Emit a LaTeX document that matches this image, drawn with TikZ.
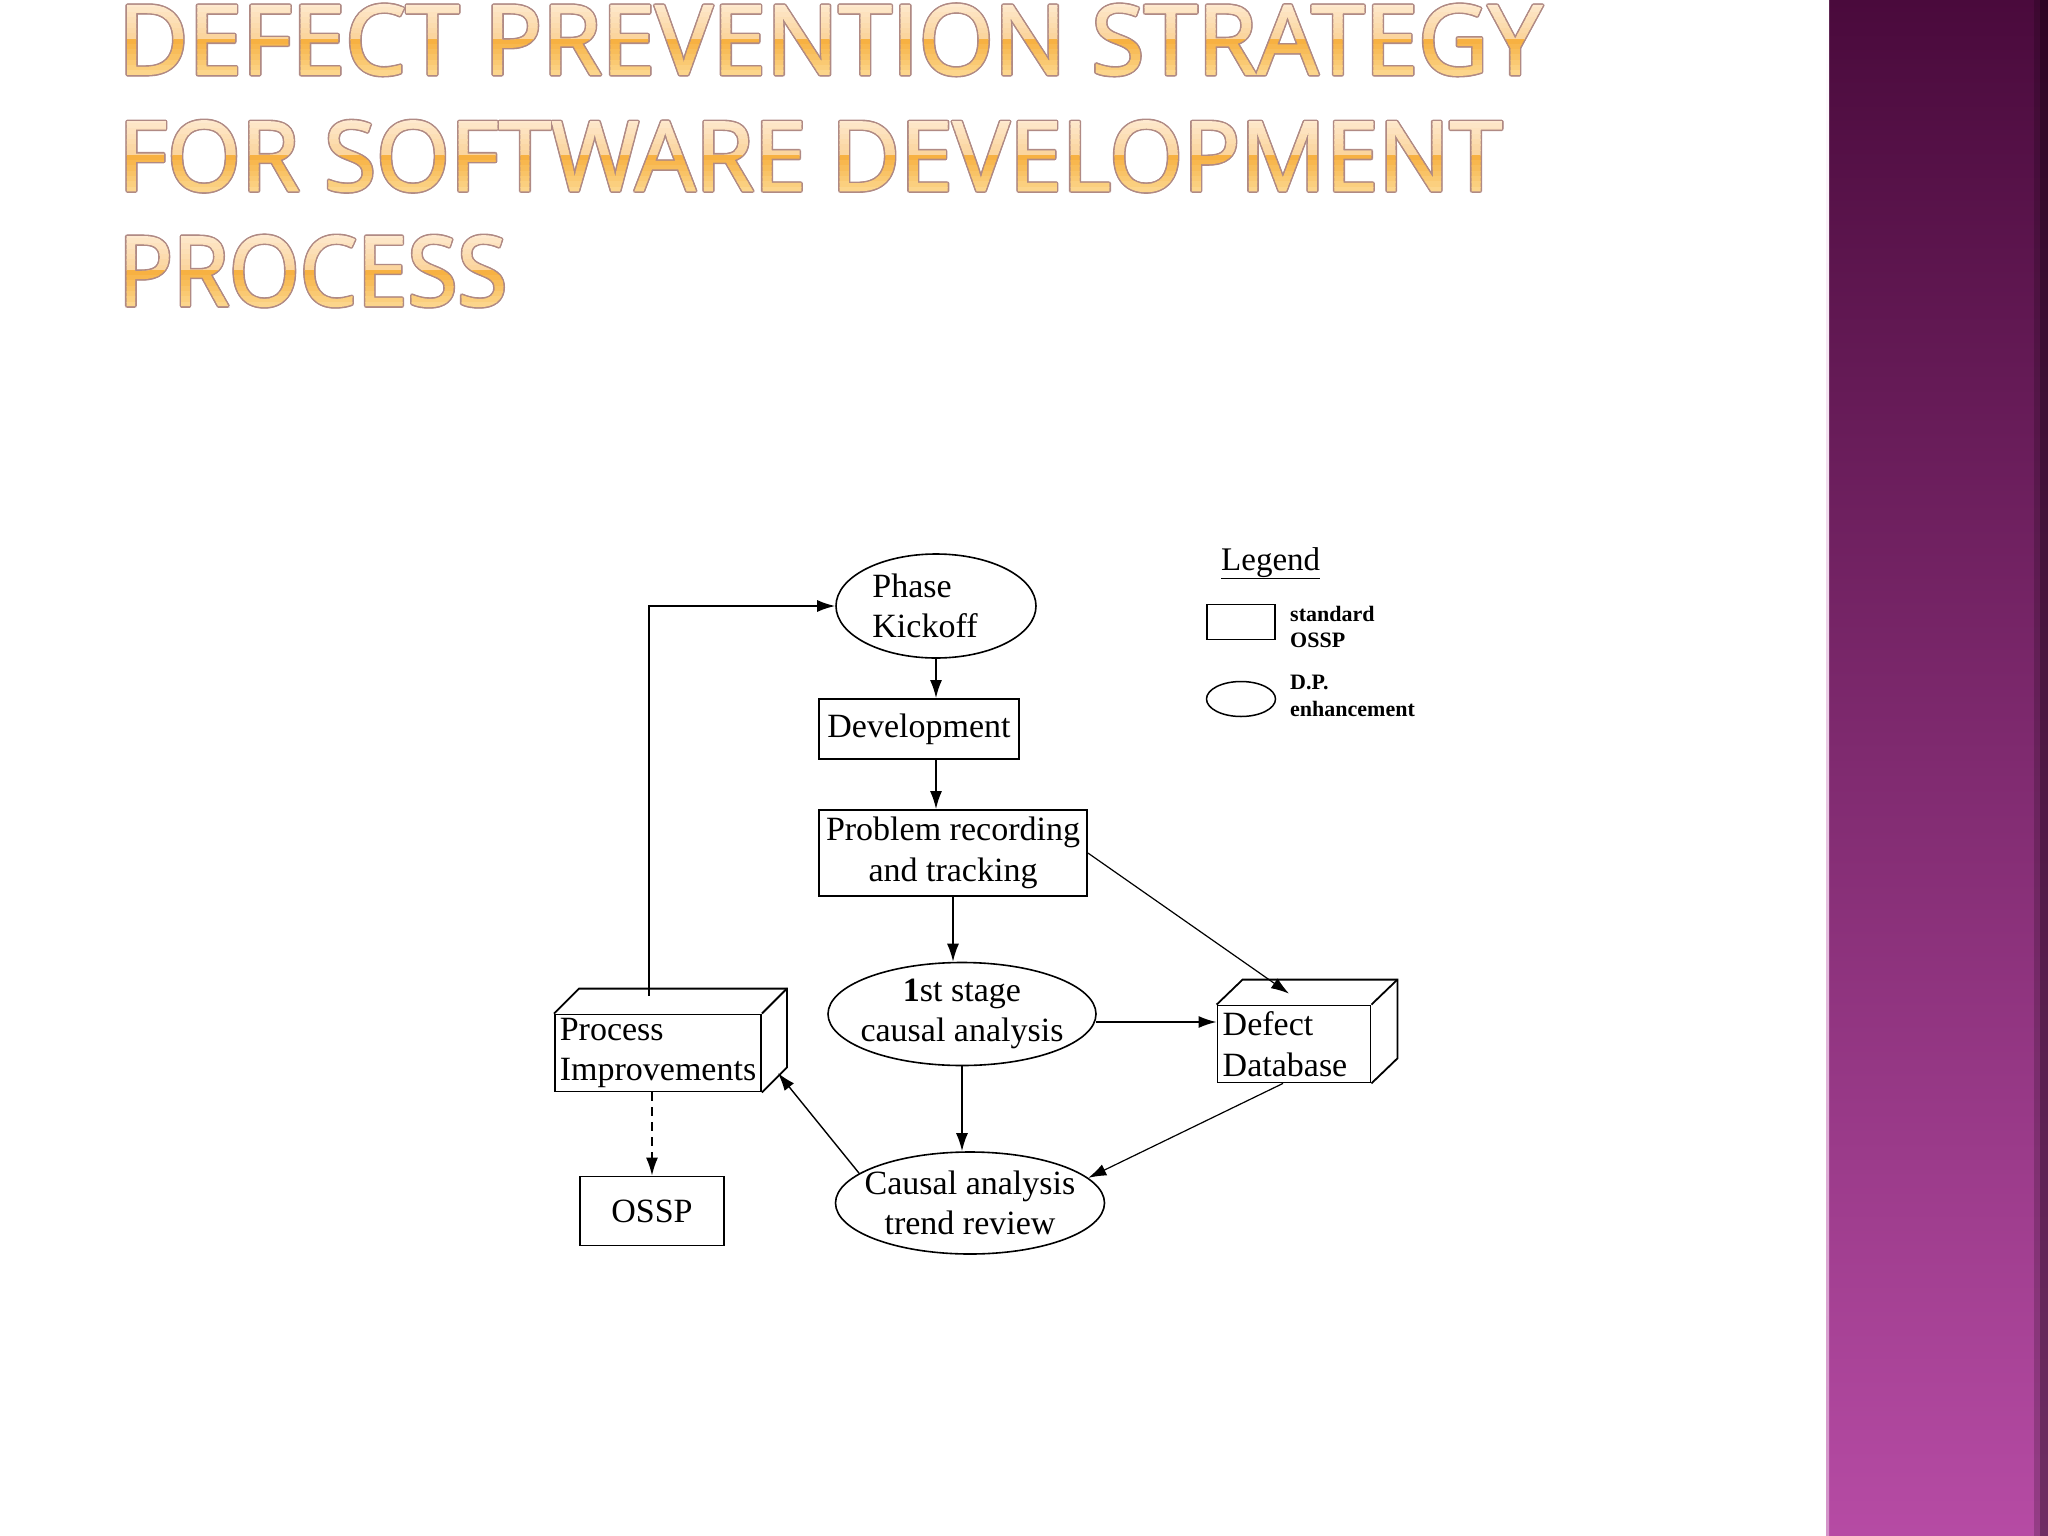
\documentclass[tikz,border=0pt]{standalone}
\usepackage{fontspec}
\usepackage{graphicx}
\setmainfont{Liberation Serif}
\newfontfamily\titlefont{Open Sans}[FakeBold=1.2]
\usetikzlibrary{arrows.meta,shapes.geometric,calc}
\definecolor{bandtop}{HTML}{4A0A3C}
\definecolor{bandmid}{HTML}{873376}
\definecolor{bandbot}{HTML}{B64BA4}
\definecolor{tA}{HTML}{FEEBD3}
\definecolor{tB}{HTML}{FBD49C}
\definecolor{tC}{HTML}{F6AC38}
\definecolor{tD}{HTML}{FCD890}
\definecolor{tEdge}{HTML}{B08A84}
\newcommand\dfont{\fontsize{34}{40.5}\selectfont}
\newcommand\lfont{\fontsize{22}{26.5}\selectfont\bfseries}
\newcommand\ttl[2]{\resizebox{#1}{70pt}{\titlefont\fontsize{98}{100}\selectfont #2}}
\begin{document}
\begin{tikzpicture}[x=1pt,y=-1pt,
  box/.style={draw, line width=1.8pt, rectangle, inner sep=0pt, font=\dfont, align=center},
  oval/.style={draw, line width=1.6pt, ellipse, inner xsep=-20pt, inner ysep=-12pt, font=\dfont, align=center},
  arr/.style={line width=1.7pt, -{Latex[length=18pt,width=12pt]}},
  face/.style={draw, line width=1.8pt, line join=miter},
  legtext/.style={anchor=west, inner sep=0pt, font=\lfont, align=left}
]
\useasboundingbox (0,0) rectangle (2048,1536);
\fill[white] (0,0) rectangle (2048,1536);

% purple band
\shade[top color=bandtop, middle color=bandmid, bottom color=bandbot] (1826,0) rectangle (2048,1536);
\fill[black, opacity=0.18] (2034,0) rectangle (2048,1536);
\fill[black, opacity=0.25] (2040,0) rectangle (2048,1536);
\shade[top color=white, bottom color=bandbot!60!white] (1826,0) rectangle (1829,1536);

% title: outline made of shifted copies, then banded gradient fill
\foreach \ty/\tw/\tx in {74.4/1424/DEFECT PREVENTION STRATEGY,190.7/1384/FOR SOFTWARE DEVELOPMENT,305.6/389/PROCESS}{
  \foreach \dx/\dy in {-1.6/0,1.6/0,0/-1.6,0/1.6,-1.1/-1.1,1.1/-1.1,-1.1/1.1,1.1/1.1}{
    \node[anchor=base west, inner sep=0pt, text=tEdge] (titleedge) at ({118+\dx},{\ty+\dy}) {\ttl{\tw pt}{\tx}};
  }
  \foreach \i in {0,...,13}{
    \pgfmathsetmacro\bt{(\i+0.5)/14}
    \pgfmathtruncatemacro\pa{max(0,min(100,100*(1-\bt/0.48)))}
    \pgfmathtruncatemacro\pb{max(0,min(100,100*(1-(\bt-0.48)/0.52)))}
    \pgfmathtruncatemacro\isTop{\bt<0.48}
    \ifnum\isTop=1 \colorlet{bandc}{tA!\pa!tB}\else\colorlet{bandc}{tC!\pb!tD}\fi
    \begin{scope}
      \clip (0,{\ty-72+\i*5.2857-0.3}) rectangle (1820,{\ty-72+(\i+1)*5.2857+0.3});
      \node[anchor=base west, inner sep=0pt, text=bandc] (title) at (118,\ty) {\ttl{\tw pt}{\tx}};
    \end{scope}
  }
}

% diagram nodes
\node[oval, minimum width=200pt, minimum height=104pt, align=left] (kick) at (936,606) {Phase\\Kickoff\rule{22pt}{0pt}};
\node[box, minimum width=200pt, minimum height=60pt] (dev) at (919,729) {Development};
\node[box, minimum width=268pt, minimum height=86pt] (prob) at (953,853) {Problem recording\\and tracking};
\node[oval, minimum width=268pt, minimum height=103pt] (first) at (962,1014) {\textbf{1}st stage\\causal analysis};
\node[box, minimum width=153pt, minimum height=77pt, align=left] (db) at (1294,1044) {Defect\\Database\rule{18pt}{0pt}};
\node[box, minimum width=206pt, minimum height=77pt, align=left] (pi) at (658,1053) {Process\\Improvements};
\node[box, minimum width=144pt, minimum height=69pt] (ossp) at (652,1211) {OSSP};
\node[oval, minimum width=269pt, minimum height=102pt] (trend) at (970,1203) {Causal analysis\\trend review};

% 3D faces
\draw[face] (db.north west) -- ++(26,-25) -- ($(db.north east)+(26,-25)$) -- ($(db.south east)+(26,-25)$) -- (db.south east);
\draw[face] (db.north east) -- ++(26,-25);
\draw[face] (pi.north west) -- ++(25,-25) -- ($(pi.north east)+(25,-25)$) -- ($(pi.south east)+(25,-25)$) -- (pi.south east);
\draw[face] (pi.north east) -- ++(25,-25);

% connectors
\draw[arr] (kick.south) -- (kick.south |- dev.north);
\draw[arr] (dev.south -| kick.south) -- (prob.north -| kick.south);
\draw[arr] (prob.south) -- (prob.south |- first.north);
\draw[arr, line width=1.2pt] (prob.east) -- ($(db.north)+(-5,-11)$);
\coordinate (fa) at ($(first.east)+(-1,8)$);
\draw[arr] (fa) -- (fa -| db.west);
\draw[arr] (first.south) -- (first.south |- trend.north);
\draw[arr, line width=1.2pt] ($(db.south)+(-11,0)$) -- (trend.12);
\draw[arr, line width=1.4pt] (trend.165) -- ($(pi.east)+(16,20)$);
\coordinate (pt) at ($(pi.north)+(-9,-18)$);
\draw[arr] (pt) |- (kick.west);
\draw[arr, dash pattern=on 9pt off 6pt] (ossp.north |- pi.south) -- (ossp.north);

% legend
\node[anchor=base west, inner sep=0pt, font=\fontsize{33}{36}\selectfont] (leg) at (1221,570) {\underline{Legend}};
\node[draw, line width=1.8pt, rectangle, minimum width=68pt, minimum height=35pt, inner sep=0pt] (legrect) at (1241,622) {};
\node[draw, line width=1.5pt, ellipse, minimum width=69pt, minimum height=35pt, inner sep=0pt] (legell) at (1241,699) {};
\node[legtext] (legstd) at (1290,627) {standard\\OSSP};
\node[legtext] (legdp) at (1290,696) {D.P.\\enhancement};
\end{tikzpicture}
\end{document}
